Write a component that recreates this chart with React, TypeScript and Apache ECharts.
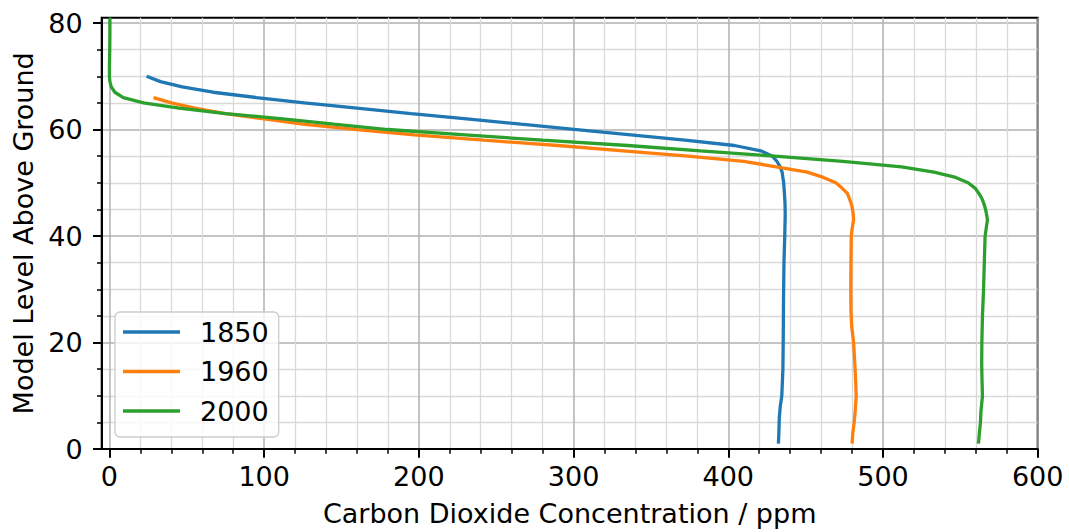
import React, { useEffect, useRef } from "react";
import * as echarts from "echarts";

const seriesNames = ["1850", "1960", "2000"];
const seriesColors = ["#1f77b4", "#ff7f0e", "#2ca02c"];

const levels1850 = [1, 3, 6, 8, 10, 15, 20, 28, 35, 40, 44, 46, 48, 50, 51, 52, 53, 54, 55, 56, 57, 58, 59, 60, 61, 62, 63, 64, 65, 66, 67, 68, 69, 70];
const co2_1850 = [432.4, 432.7, 433, 433.6, 434.6, 435.3, 435.5, 435.7, 436, 436.5, 436.8, 436.7, 436.3, 435.8, 435.3, 434.8, 433.5, 431.5, 428.5, 421, 404, 372, 337, 302, 266, 231, 195, 160, 126, 95, 67, 47, 33, 24];

const levels1960 = [1, 3, 5, 7, 10, 13, 16, 20, 23, 26, 30, 35, 40, 41, 42, 43, 44, 45, 46, 47, 48, 49, 50, 51, 52, 53, 54, 55, 56, 57, 58, 59, 60, 61, 62, 63, 64, 65, 66];
const co2_1960 = [480, 480.5, 481.4, 482, 482.7, 482.3, 481.8, 481, 479.8, 479.3, 479.2, 479.3, 479.5, 479.9, 480.4, 481, 480.8, 480.3, 479.6, 478.3, 477, 473.5, 469.5, 461.5, 451, 431, 410, 374, 332, 290, 242, 197, 160, 125, 100, 75, 55, 40, 28.5];

const levels2000 = [1, 3, 5, 7, 10, 13, 16, 20, 25, 30, 35, 40, 41, 42, 43, 44, 45, 46, 47, 48, 49, 50, 51, 52, 53, 54, 55, 56, 57, 58, 59, 60, 61, 62, 63, 64, 65, 66, 67, 68, 69, 70, 72, 75, 78, 81];
const co2_2000 = [561.7, 562.3, 563, 563.3, 564.3, 564, 563.8, 563.9, 564.3, 565, 565.5, 566, 566.5, 567, 567.5, 567, 566.3, 565.3, 564, 562, 559.5, 555, 547, 533, 512, 474, 430, 382, 335, 280, 230, 180, 145, 112, 75, 45, 22, 9, 3.5, 1.2, 0.3, 0, 0, 0.2, 0.3, 0.3];

const xMajorTicks = [0, 100, 200, 300, 400, 500, 600];
const xMinorTicks = [20, 40, 60, 80, 120, 140, 160, 180, 220, 240, 260, 280, 320, 340, 360, 380, 420, 440, 460, 480, 520, 540, 560, 580];
const yMajorTicks = [0, 20, 40, 60, 80];
const yMinorTicks = [5, 10, 15, 25, 30, 35, 45, 50, 55, 65, 70, 75];

const xTitle = "Carbon Dioxide Concentration / ppm";
const yTitle = "Model Level Above Ground";

const FONT = "DejaVu Sans";
const FS = 27;

export default function App() {
  const ref = useRef<HTMLDivElement>(null);

  useEffect(() => {
    if (!ref.current) return;
    const chart = echarts.init(ref.current, undefined, { renderer: "svg" });
    const allLevels = [levels1850, levels1960, levels2000];
    const allValues = [co2_1850, co2_1960, co2_2000];

    const option: any = {
      animation: false,
      grid: {
        left: 101.7,
        right: 31.3,
        top: 17.7,
        bottom: 82,
        show: true,
        borderColor: "#000",
        borderWidth: 2,
        backgroundColor: "transparent",
      },
      xAxis: [
        {
          type: "value",
          min: -5,
          max: 600,
          position: "bottom",
          name: xTitle,
          nameLocation: "middle",
          nameGap: 51,
          nameTextStyle: { fontFamily: FONT, fontSize: FS, color: "#000" },
          axisLine: { show: true, onZero: false, lineStyle: { color: "#000", width: 2 } },
          axisTick: { show: true, length: 8.7, customValues: xMajorTicks, lineStyle: { color: "#000", width: 2 } },
          axisLabel: { customValues: xMajorTicks, fontFamily: FONT, fontSize: FS, color: "#000", margin: 13.5 },
          splitLine: { show: true, lineStyle: { color: "#b0b0b0", width: 1.5 } },
        },
        {
          type: "value",
          min: -5,
          max: 600,
          position: "bottom",
          axisLine: { show: false, onZero: false },
          axisTick: { show: true, length: 4.7, customValues: xMinorTicks, lineStyle: { color: "#000", width: 1.5 } },
          axisLabel: { show: false },
          splitLine: { show: true, lineStyle: { color: "#d9d9d9", width: 1.3 } },
        },
      ],
      yAxis: [
        {
          type: "value",
          min: 0,
          max: 81,
          position: "left",
          name: yTitle,
          nameLocation: "middle",
          nameGap: 64,
          nameTextStyle: { fontFamily: FONT, fontSize: FS, color: "#000" },
          axisLine: { show: true, onZero: false, lineStyle: { color: "#000", width: 2 } },
          axisTick: { show: true, length: 8.7, customValues: yMajorTicks, lineStyle: { color: "#000", width: 2 } },
          axisLabel: { customValues: yMajorTicks, fontFamily: FONT, fontSize: FS, color: "#000", margin: 19 },
          splitLine: { show: true, lineStyle: { color: "#b0b0b0", width: 1.5 } },
        },
        {
          type: "value",
          min: 0,
          max: 81,
          position: "left",
          axisLine: { show: false, onZero: false },
          axisTick: { show: true, length: 4.7, customValues: yMinorTicks, lineStyle: { color: "#000", width: 1.5 } },
          axisLabel: { show: false },
          splitLine: { show: true, lineStyle: { color: "#d9d9d9", width: 1.3 } },
        },
      ],
      legend: {
        orient: "vertical",
        left: 115,
        top: 312,
        icon: "rect",
        itemWidth: 57,
        itemHeight: 3.3,
        itemGap: 9.5,
        padding: [5, 10, 11, 8],
        backgroundColor: "rgba(255,255,255,0.8)",
        borderColor: "#cccccc",
        borderWidth: 1.3,
        borderRadius: 5,
        textStyle: { fontFamily: FONT, fontSize: FS, color: "#000", lineHeight: 30, padding: [0, 0, 0, 15] },
        data: seriesNames,
      },
      series: seriesNames.map((name, i) => ({
        type: "line",
        name,
        xAxisIndex: 0,
        yAxisIndex: 0,
        showSymbol: false,
        symbol: "none",
        clip: true,
        color: seriesColors[i],
        lineStyle: { width: 3.3, color: seriesColors[i] },
        itemStyle: { color: seriesColors[i] },
        data: allLevels[i].map((lev, j) => [allValues[i][j], lev]),
      })),
    };
    chart.setOption(option);
    return () => chart.dispose();
  }, []);

  return (
    <div
      ref={ref}
      style={{ position: "fixed", left: 0, top: 0, width: 1069, height: 532, background: "#fff" }}
    />
  );
}
